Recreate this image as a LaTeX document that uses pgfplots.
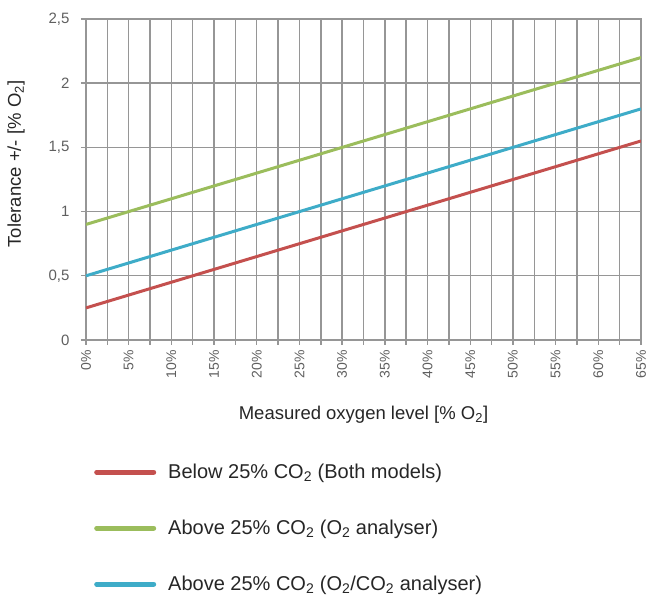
\documentclass[border=0pt]{standalone}
\usepackage{fontspec}
\setmainfont{Liberation Sans}
\usepackage{pgfplots}
\pgfplotsset{compat=1.18}

\definecolor{redline}{RGB}{196,80,78}
\definecolor{greenline}{RGB}{155,189,92}
\definecolor{blueline}{RGB}{62,172,200}
\definecolor{gridgray}{RGB}{150,150,150}
\definecolor{ticktext}{RGB}{95,95,95}

\begin{document}
\begin{tikzpicture}
\begin{axis}[
    scale only axis,
    width=555pt, height=321pt,
    at={(0pt,0pt)}, anchor=south west,
    xmin=0, xmax=65,
    ymin=0, ymax=2.5,
    xtick={0,5,...,65},
    minor xtick={2.5,7.5,...,62.5},
    ytick={0,0.5,...,2.5},
    xticklabel={\pgfmathprintnumber{\tick}\%},
    xticklabel style={rotate=90, anchor=east, inner sep=1pt, xshift=-4pt,
        font=\fontsize{14}{16}\selectfont, text=ticktext},
    yticklabel style={xshift=-8pt, font=\fontsize{15}{17}\selectfont, text=ticktext},
    /pgf/number format/use comma,
    /pgf/number format/assume math mode=true,
    grid=both,
    major grid style={gridgray, line width=1.4pt},
    minor grid style={gridgray, line width=1.4pt},
    axis line style={gridgray, line width=1.4pt},
    tick style={gridgray, line width=1.4pt},
    tick align=outside,
    major tick length=5pt,
    minor tick length=5pt,
    xtick pos=bottom, ytick pos=left,
    xlabel={Measured oxygen level [\% O\textsubscript{2}]},
    ylabel={Tolerance +/- [\% O\textsubscript{2}]},
    xlabel style={at={(axis description cs:0.5,-0.2336)}, anchor=center,
        font=\fontsize{18.5}{20}\selectfont, text=black!85},
    ylabel style={at={(axis description cs:-0.1261,0.5483)}, anchor=center,
        font=\fontsize{18.5}{20}\selectfont, text=black!85},
    legend cell align=left,
    legend style={at={(rel axis cs:0,0)}, anchor=north west, xshift=8pt, yshift=-122pt,
        draw=none, fill=none, font=\fontsize{20}{22}\selectfont, text=black!85,
        row sep=36pt, inner sep=0pt},
    legend image code/.code={
        \path[draw=none] (0pt,0pt) (72pt,0pt);
        \draw[line width=5pt, line cap=round, #1] (2.5pt,0pt) -- (59.5pt,0pt);},
]
\addplot[redline, line width=3pt] coordinates {(0,0.25) (65,1.55)};
\addplot[greenline, line width=3pt] coordinates {(0,0.9) (65,2.2)};
\addplot[blueline, line width=3pt] coordinates {(0,0.5) (65,1.8)};
\legend{Below 25\% CO\textsubscript{2} (Both models),
        Above 25\% CO\textsubscript{2} (O\textsubscript{2} analyser),
        Above 25\% CO\textsubscript{2} (O\textsubscript{2}/CO\textsubscript{2} analyser)}
\end{axis}
\pgfresetboundingbox
\path (-86pt,-259pt) rectangle (563pt,340pt);
\end{tikzpicture}
\end{document}
